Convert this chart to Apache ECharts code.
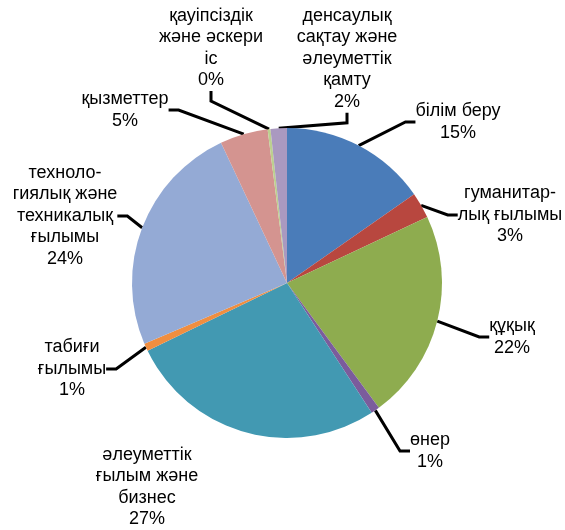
<!DOCTYPE html>
<html>
<head>
<meta charset="utf-8">
<script src="https://cdn.jsdelivr.net/npm/echarts@6/dist/echarts.min.js"></script>
<style>
  html, body { margin: 0; padding: 0; background: #fff; }
  #main { width: 565px; height: 530px; }
</style>
</head>
<body>
<div id="main"></div>
<script>
var categories = [
    'білім беру',
    'гуманитар-\nлық ғылымы',
    'құқық',
    'өнер',
    'әлеуметтік\nғылым және\nбизнес',
    'табиғи\nғылымы',
    'техноло-\nгиялық және\nтехникалық\nғылымы',
    'қызметтер',
    'қауіпсіздік\nжәне әскери\nіс',
    'денсаулық\nсақтау және\nәлеуметтік\nқамту'
];
var shares = [15.3, 2.7, 21.9, 0.9, 27.0, 0.8, 24.4, 5.0, 0.3, 1.7];
var colors = ['#4A7CB9', '#B8473F', '#8EAC4F', '#7B5C9C', '#4299B2',
              '#F08E40', '#94AAD5', '#D49490', '#BCD08F', '#AA99C0'];
// where each label block sits (centre)
var labelX = [458, 510, 512, 430, 147, 72, 65, 125, 211, 347];
var labelY = [122, 215, 337, 451, 487, 369, 216, 110, 48, 59];
// the label next to the big teal slice has no leader line
var showLine = [true, true, true, true, false, true, true, true, true, true];

var chartDom = document.getElementById('main');
var myChart = echarts.init(chartDom);

var pieData = categories.map(function (name, i) {
    return {
        name: name,
        value: shares[i],
        itemStyle: { color: colors[i] },
        labelLine: { show: showLine[i] }
    };
});

var option = {
    animation: false,
    series: [{
        type: 'pie',
        center: [287, 283],
        radius: 155,
        startAngle: 90,
        clockwise: true,
        data: pieData,
        itemStyle: { borderWidth: 0 },
        label: {
            show: true,
            position: 'outside',
            overflow: 'none',
            formatter: function (p) {
                return p.name + '\n' + Math.round(p.percent) + '%';
            },
            fontFamily: 'Liberation Sans, Arial, sans-serif',
            fontSize: 18,
            lineHeight: 21.5,
            color: '#000',
            align: 'center'
        },
        labelLine: {
            show: true,
            length: 10,
            length2: 10,
            lineStyle: { color: '#000', width: 3 }
        },
        labelLayout: function (params) {
            var i = params.dataIndex;
            return {
                x: labelX[i],
                y: labelY[i],
                align: 'center',
                verticalAlign: 'middle',
                hideOverlap: false,
                moveOverlap: null
            };
        }
    }]
};

myChart.setOption(option);
</script>
</body>
</html>
